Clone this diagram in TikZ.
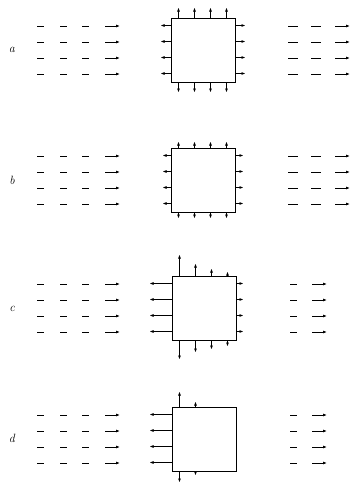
\documentclass[tikz,border=0pt]{standalone}
\usepackage{tikz}
\usetikzlibrary{arrows.meta}

\begin{document}
\begin{tikzpicture}[
  x=1pt, y=-1pt,
  cell/.style={draw, line width=1pt, minimum width=64pt, minimum height=64pt, inner sep=0pt},
  flow/.style={-{Latex[length=4pt,width=3pt]}, line width=0.9pt},
  streak/.style={line width=0.9pt},
  tag/.style={font=\large\itshape}
]
\useasboundingbox (0,0) rectangle (351,485);

% a: outflow on all four sides
\node[tag] (la) at (12,50) {a};
\node[cell] (boxa) at (203,50) {};
\foreach \y in {26,42,58,74} {
  \foreach \x in {37,60,82} \draw[streak] (\x,\y) -- ++(7,0);
  \draw[flow] (105,\y) -- (120,\y);
  \foreach \x in {288,311} \draw[streak] (\x,\y) -- ++(10,0);
  \draw[flow] (335,\y) -- (350,\y);
}
\foreach \f in {8,24,40,56} {
  \draw[flow] ([xshift=\f pt]boxa.north west) -- ++(0,-10);
  \draw[flow] ([xshift=\f pt]boxa.south west) -- ++(0,10);
  \draw[flow] ([yshift=-\f pt]boxa.north west) -- ++(-10,0);
  \draw[flow] ([yshift=-\f pt]boxa.north east) -- ++(10,0);
}

% b: small outflow
\node[tag] (lb) at (12,180) {b};
\node[cell] (boxb) at (203,180) {};
\foreach \y in {156,172,188,204} {
  \foreach \x in {37,60,82} \draw[streak] (\x,\y) -- ++(7,0);
  \draw[flow] (105,\y) -- (120,\y);
  \foreach \x in {288,311} \draw[streak] (\x,\y) -- ++(10,0);
  \draw[flow] (335,\y) -- (350,\y);
}
\foreach \f in {8,24,40,56} {
  \draw[flow] ([xshift=\f pt]boxb.north west) -- ++(0,-6);
  \draw[flow] ([xshift=\f pt]boxb.south west) -- ++(0,6);
  \draw[flow] ([yshift=-\f pt]boxb.north west) -- ++(-8,0);
  \draw[flow] ([yshift=-\f pt]boxb.north east) -- ++(8,0);
}

% c: strong outflow to the left
\node[tag] (lc) at (12,309) {c};
\node[cell] (boxc) at (204,308) {};
\foreach \y in {284,300,316,332} {
  \foreach \x in {37,60,82} \draw[streak] (\x,\y) -- ++(7,0);
  \draw[flow] (105,\y) -- (120,\y);
  \draw[streak] (290,\y) -- ++(7,0);
  \draw[flow] (312,\y) -- (327,\y);
}
\foreach \f/\t/\b in {8/21/19,24/12/12,40/7/9,56/4/6} {
  \draw[flow] ([xshift=\f pt]boxc.north west) -- ++(0,-\t);
  \draw[flow] ([xshift=\f pt]boxc.south west) -- ++(0,\b);
}
\foreach \f in {8,24,40,56} {
  \draw[flow] ([yshift=-\f pt]boxc.north west) -- ++(-22,0);
  \draw[flow] ([yshift=-\f pt]boxc.north east) -- ++(7,0);
}

% d: outflow to the left only
\node[tag] (ld) at (12,438) {d};
\node[cell] (boxd) at (204,439) {};
\foreach \y in {415,431,447,463} {
  \foreach \x in {37,60,82} \draw[streak] (\x,\y) -- ++(7,0);
  \draw[flow] (105,\y) -- (120,\y);
  \draw[streak] (290,\y) -- ++(7,0);
  \draw[flow] (312,\y) -- (327,\y);
}
\foreach \f/\t/\b in {8/15/11,24/5/4} {
  \draw[flow] ([xshift=\f pt]boxd.north west) -- ++(0,-\t);
  \draw[flow] ([xshift=\f pt]boxd.south west) -- ++(0,\b);
}
\foreach \f in {8,24,40,56}
  \draw[flow] ([yshift=-\f pt]boxd.north west) -- ++(-22,0);
\end{tikzpicture}
\end{document}
